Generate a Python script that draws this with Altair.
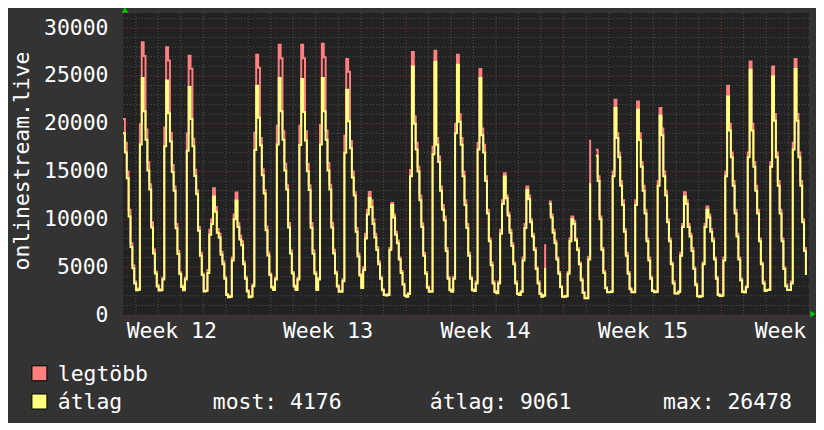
import altair as alt
import pandas as pd

# ---------------- data ----------------
STEP_HOURS = 2            # one sample every 2 hours, starting at the left edge
X_END = 731.3             # hours shown
Y_TOP = 31570

MAX = [
    20500, 18000, 15000, 11000, 7500, 5200, 3500, 2700, 2800, 19950,
    28500, 27080, 19380, 15960, 13680, 9690, 6840, 4560, 3140, 2650,
    2700, 3900, 19600, 28000, 26600, 19040, 15680, 13440, 9520, 6720,
    4480, 3080, 2700, 3900, 18970, 27100, 25750, 18430, 15180, 13010,
    9210, 6500, 4340, 2600, 2600, 4700, 8900, 10000, 13260, 11300,
    9000, 8500, 6600, 5600, 4000, 2200, 1920, 2000, 6000, 10500,
    12800, 9600, 8300, 7700, 5600, 4000, 2600, 1950, 2000, 3200,
    19050, 27210, 25850, 18500, 15240, 13060, 9250, 6530, 4350, 2990,
    2720, 3900, 19780, 28250, 26840, 19210, 15820, 13560, 9610, 6780,
    4520, 3110, 2720, 3900, 19780, 28250, 26840, 19210, 15820, 13560,
    9610, 6780, 4520, 2720, 3900, 19850, 28360, 26940, 19280, 15880,
    13610, 9640, 6810, 4540, 3120, 2500, 2540, 3740, 18730, 26760,
    25420, 18200, 14990, 12840, 9100, 6420, 4280, 2940, 5000, 8500,
    11000, 12870, 12000, 10000, 8500, 7100, 5600, 4000, 2700, 2150,
    2100, 2200, 7000, 11720, 10500, 8700, 7800, 6000, 4600, 3300,
    2100, 1950, 2300, 15170, 27490, 20750, 18000, 15500, 12500, 9600,
    6500, 4500, 3000, 2500, 2500, 17600, 27630, 18500, 16570, 13430,
    11500, 10290, 7000, 4000, 2700, 2500, 4000, 20000, 27210, 21000,
    18500, 15000, 12000, 9500, 6500, 4000, 2700, 2500, 3500, 18000,
    25710, 19500, 17800, 14500, 11000, 8000, 5500, 3500, 2500, 2300,
    3500, 8900, 12000, 14830, 12500, 10700, 8900, 7500, 5500, 3500,
    2300, 2100, 2500, 6000, 9500, 13430, 12500, 10000, 8500, 7000,
    5000, 3500, 2300, 1950, 2100, 7400, None, 11860, 10500, 8900,
    7800, 6000, 4500, 3000, 2000, 1920, 2000, 4500, 8000, 10290,
    9800, 8000, 7000, 5500, 3800, 2400, 1800, 1750, 6100, 18310,
    None, None, 17270, 14500, 10300, 7000, 4600, 2900, 2400, 2400,
    2500, 15000, 22500, 19000, 17000, 14000, 12000, 9000, 6500, 4500,
    2800, 2400, 2450, 12000, 22330, 19000, 16000, 13500, 11000, 8000,
    6000, 4000, 2600, 2400, 2500, 14000, 21630, 19500, 15000, 13000,
    10000, 8000, 5500, 3500, 2300, 2260, 2500, 6500, 9500, 12840,
    12000, 9500, 8500, 7000, 5000, 3300, 2000, 1920, 2000, 5500,
    9500, 11340, 10500, 9000, 8000, 6000, 4000, 2200, 1990, 2100,
    6000, 15000, 23960, 20000, 17000, 14000, 11000, 8500, 6000, 3800,
    2500, 2380, 3000, 17000, 26510, 20000, 16000, 13500, 11000, 8000,
    5500, 3500, 2600, 2620, 2700, 16000, 25990, 21000, 17000, 14000,
    11000, 8000, 5000, 3200, 2620, 2620, 3500, 18000, 26760, 21000,
    17000, 14000, 10000, 7000, 4300,
]

AVG = [
    19000, 17000, 14300, 10300, 7100, 4900, 3300, 2600, 2650, 17830,
    24770, 21300, 18330, 15110, 13130, 9160, 6440, 4330, 2970, 2550,
    2600, 3700, 17650, 24520, 21090, 18140, 14960, 13000, 9070, 6380,
    4290, 2940, 2600, 3700, 17160, 23830, 20490, 17630, 14540, 12630,
    8820, 6200, 4170, 2450, 2500, 4400, 8400, 9500, 12380, 10800,
    8600, 8100, 6300, 5300, 3800, 2100, 1850, 1900, 5700, 10000,
    11960, 9200, 7900, 7300, 5300, 3800, 2450, 1850, 1900, 3000,
    17250, 23960, 20610, 17730, 14620, 12700, 8870, 6230, 4190, 2880,
    2620, 3700, 17830, 24770, 21300, 18330, 15110, 13130, 9160, 6440,
    4330, 2970, 2620, 3700, 17760, 24660, 21210, 18250, 15040, 13070,
    9120, 6410, 4320, 2620, 3700, 17830, 24770, 21300, 18330, 15110,
    13130, 9160, 6440, 4330, 2970, 2440, 2440, 3540, 16960, 23550,
    20250, 17430, 14370, 12480, 8710, 6120, 4120, 2830, 4700, 8000,
    10500, 12240, 11300, 9500, 8100, 6800, 5300, 3800, 2600, 2090,
    2050, 2100, 6800, 11510, 10200, 8400, 7500, 5800, 4400, 3150,
    2000, 1920, 2200, 14500, 25990, 20000, 17300, 15000, 12000, 9200,
    6200, 4300, 2850, 2440, 2440, 16800, 26478, 17800, 16000, 13000,
    11000, 9900, 6700, 3800, 2600, 2440, 3800, 19000, 26160, 20200,
    17800, 14500, 11500, 9100, 6200, 3800, 2600, 2500, 3300, 17300,
    24770, 18800, 17000, 14000, 10600, 7700, 5200, 3300, 2400, 2270,
    3300, 8500, 11600, 14470, 12200, 10400, 8600, 7200, 5300, 3300,
    2200, 2090, 2400, 5700, 9100, 13080, 12100, 9700, 8200, 6800,
    4800, 3300, 2200, 1920, 2000, 4920, None, 11620, 10200, 8600,
    7500, 5800, 4300, 2900, 1920, 1900, 1950, 4300, 7700, 10010,
    9500, 7800, 6800, 5300, 3600, 2300, 1750, 1750, 5800, 13780,
    None, None, 16640, 14000, 10000, 6800, 4400, 2800, 2380, 2380,
    2400, 14500, 21630, 18500, 16500, 13500, 11500, 8700, 6200, 4300,
    2700, 2380, 2380, 11500, 21450, 18300, 15500, 13000, 10600, 7700,
    5700, 3800, 2500, 2380, 2400, 13500, 20820, 18800, 14500, 12500,
    9700, 7700, 5300, 3300, 2260, 2260, 2400, 6200, 9200, 12380,
    11600, 9200, 8200, 6700, 4800, 3100, 1950, 1920, 1950, 5300,
    9200, 10990, 10200, 8700, 7700, 5800, 3800, 2100, 1990, 2000,
    5700, 14500, 22850, 19300, 16500, 13500, 10600, 8200, 5800, 3600,
    2400, 2380, 2900, 16500, 25640, 19300, 15500, 13000, 10600, 7700,
    5300, 3300, 2500, 2620, 2620, 15500, 24940, 20300, 16500, 13500,
    10600, 7700, 4800, 3000, 2620, 2620, 3300, 17300, 25710, 20300,
    16500, 13500, 9700, 6700, 4176,
]

SERIES = ["legtöbb", "átlag"]
COLORS = ["#ff7f7f", "#ffff7f"]
Y_TICKS = [0, 5000, 10000, 15000, 20000, 25000, 30000]
WEEK_LABELS = ["Week 12", "Week 13", "Week 14", "Week 15", "Week 16"]
WEEK_LABEL_HOURS = [52, 218.5, 386.5, 554.5, 721.5]
WEEK_LINE_HOURS = [133.6, 301.6, 469.6, 637.6]
FIRST_DAY_LINE = 13.6
STAT_TEXTS = ["most: 4176", "átlag: 9061", "max: 26478"]
STAT_HOURS = [95.7, 327.1, 575.7]     # where each statistic starts along the x scale
LEGEND_BOX_HOUR = -89.1               # legend swatches sit left of the plot
LEGEND_TEXT_HOUR = -69.5
Y_TITLE = "onlinestream.live"

# ---------------- styling ----------------
FONT = "DejaVu Sans Mono"
FS = 21.4
TXT = "#ffffff"
MINOR = "#505050"
MAJOR = "#7f3535"
GREEN = "#00cc00"

# ---------------- build tables ----------------
rows = []
for name, vals in zip(SERIES, (MAX, AVG)):
    seg = 0
    for i, v in enumerate(vals):
        if v is None:
            seg += 1
            continue
        rows.append({"series": name, "hour": i * STEP_HOURS, "value": v, "seg": seg})
df = pd.DataFrame(rows)

day_lines = []
h = FIRST_DAY_LINE
while h < X_END:
    if all(abs(h - w) > 1 for w in WEEK_LINE_HOURS):
        day_lines.append(h)
    h += 24
minor_y = [v for v in range(1000, Y_TOP, 1000) if v % 5000]
major_y = [v for v in Y_TICKS if v > 0]

xscale = alt.Scale(domain=[0, X_END], nice=False, zero=False)
yscale = alt.Scale(domain=[0, Y_TOP], nice=False, zero=True)

xaxis = alt.Axis(labels=False, ticks=False, grid=False, domain=True,
                 domainColor="#4a3030", title=None)
yaxis = alt.Axis(
    values=Y_TICKS, format="d", title=Y_TITLE,
    labelFont=FONT, labelFontSize=FS, labelColor=TXT,
    ticks=False, grid=False, domain=False, labelPadding=15,
    labelOverlap=False, labelFlush=False,
    titleFont=FONT, titleFontSize=FS, titleColor=TXT, titleFontWeight="normal",
    titleAngle=270, titleX=-95, titleY=147.5, titleAlign="center",
    titleBaseline="alphabetic",
)

X = lambda f: alt.X(f, scale=xscale, axis=xaxis)
Y = lambda f: alt.Y(f, scale=yscale, axis=yaxis)

def hrule(values, color):
    return alt.Chart(pd.DataFrame({"v": values})).mark_rule(
        color=color, strokeDash=[1, 2], strokeWidth=1
    ).encode(y=Y("v:Q"))

def vrule(values, color):
    return alt.Chart(pd.DataFrame({"h": values})).mark_rule(
        color=color, strokeDash=[1, 2], strokeWidth=1
    ).encode(x=X("h:Q"))

stroke_scale = alt.Scale(domain=SERIES, range=COLORS)

def series_line(name):
    return alt.Chart(df).transform_filter(alt.datum.series == name).mark_line(
        interpolate="step-after", strokeWidth=2, clip=True
    ).encode(
        x=X("hour:Q"), y=Y("value:Q"),
        stroke=alt.Stroke("series:N", scale=stroke_scale, legend=None),
        detail="seg:N",
    )

def text_row(hours, labels, dy):
    return alt.Chart(pd.DataFrame({"hour": hours, "label": labels, "y": 0})).mark_text(
        font=FONT, fontSize=FS, color=TXT, align="left", baseline="alphabetic",
        dy=dy, clip=False
    ).encode(x=X("hour:Q"), y=Y("y:Q"), text="label:N")

week_text = alt.Chart(pd.DataFrame({"hour": WEEK_LABEL_HOURS, "label": WEEK_LABELS, "y": 0})).mark_text(
    font=FONT, fontSize=FS, color=TXT, align="center", baseline="alphabetic", dy=23.3, clip=False
).encode(x=X("hour:Q"), y=Y("y:Q"), text="label:N")

def swatch(series, color, y_off):
    return alt.Chart(pd.DataFrame({"hour": [LEGEND_BOX_HOUR], "y": [0], "series": [series]})).mark_square(
        size=225, filled=True, color=color, stroke="#000000", strokeWidth=1,
        opacity=1, yOffset=y_off, clip=False
    ).encode(x=X("hour:Q"), y=Y("y:Q"))

legend_row1 = text_row([LEGEND_TEXT_HOUR], [SERIES[0]], 66)
legend_row2 = text_row([LEGEND_TEXT_HOUR] + STAT_HOURS, [SERIES[1]] + STAT_TEXTS, 94)

arrow_df = pd.DataFrame({"hour": [0, X_END], "value": [Y_TOP, 0]})
arrow_up = alt.Chart(arrow_df.iloc[[0]]).mark_point(
    shape="triangle-up", size=40, filled=True, color=GREEN, opacity=1,
    xOffset=2, yOffset=-3, clip=False
).encode(x=X("hour:Q"), y=Y("value:Q"))
arrow_right = alt.Chart(arrow_df.iloc[[1]]).mark_point(
    shape="triangle-right", size=40, filled=True, color=GREEN, opacity=1,
    xOffset=4, yOffset=-1, clip=False
).encode(x=X("hour:Q"), y=Y("value:Q"))

chart = alt.layer(
    hrule(minor_y, MINOR), vrule(day_lines, MINOR),
    hrule(major_y, MAJOR), vrule(WEEK_LINE_HOURS, MAJOR),
    series_line(SERIES[0]), series_line(SERIES[1]),
    week_text, swatch(SERIES[0], COLORS[0], 58.3), swatch(SERIES[1], COLORS[1], 86.5),
    legend_row1, legend_row2, arrow_up, arrow_right,
).properties(
    width=686, height=302, background="#333333",
    padding={"left": 115, "top": 5, "right": 7, "bottom": 108},
    autosize=alt.AutoSizeParams(type="none"),
).configure_view(fill="#222222", strokeWidth=0)

chart.save("out.html", embed_options={"renderer": "svg", "actions": False})
